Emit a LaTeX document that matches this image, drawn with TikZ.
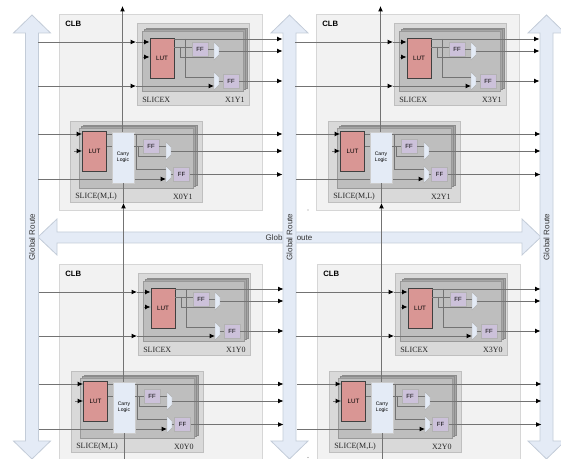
\documentclass[tikz,border=0pt]{standalone}
\usepackage{fontspec}
\setmainfont{Liberation Sans}
\newfontfamily\labfont{Liberation Serif}
\usetikzlibrary{arrows.meta}
\definecolor{clbfill}{HTML}{F2F2F2}
\definecolor{clbline}{HTML}{D6D6D6}
\definecolor{sliceout}{HTML}{D9D9D9}
\definecolor{slicemid}{HTML}{BEBEBE}
\definecolor{sliceback}{HTML}{A6A6A6}
\definecolor{lutfill}{HTML}{D99694}
\definecolor{fffill}{HTML}{CCC1DA}
\definecolor{routefill}{HTML}{E4EBF6}
\definecolor{routeline}{HTML}{C3CCD8}
\tikzset{
  wire/.style={draw=black!55, line width=0.6pt},
  wirearrow/.style={wire, -{Latex[black, length=4pt, width=3.6pt]}},
  lutbox/.style={draw=black!75, line width=0.7pt, fill=lutfill, inner sep=0pt, minimum width=18pt, minimum height=30pt, font=\fontsize{4.7}{5}\selectfont},
  ffbox/.style={draw=black!30, line width=0.6pt, fill=fffill, inner sep=0pt, minimum width=12pt, minimum height=10.5pt, font=\fontsize{4.5}{5}\selectfont},
  carrybox/.style={draw=black!20, line width=0.6pt, fill=routefill, inner sep=0pt, minimum width=16.5pt, minimum height=38.25pt, align=center, font=\fontsize{3.8}{4.6}\selectfont},
  muxpath/.style={draw=black!30, line width=0.3pt, fill=routefill},
  routepath/.style={draw=routeline, line width=0.6pt, fill=routefill},
  routelabel/.style={font=\fontsize{6}{7}\selectfont, text=black!80},
  serlabel/.style={font=\labfont\fontsize{6}{7}\selectfont, text=black!85, inner sep=0pt},
  clblabel/.style={font=\bfseries\fontsize{5.8}{7}\selectfont, inner sep=0pt, anchor=west},
  % the slice with LUT only, origin at top left of the grey box
  slicex/.pic={
    \draw[draw=black!25, fill=sliceout] (0,0) rectangle (112,82);
    \foreach \d in {4,2,0}{
      \draw[draw=black!45, line width=0.3pt, fill=sliceback] (5+\d,8-0.75*\d) rectangle (106+\d,68-0.75*\d);}
    \draw[draw=black!40, line width=0.3pt, fill=slicemid] (5,8) rectangle (106,68);
    \node[serlabel, anchor=west] (name) at (5,77) {SLICEX};
    \node[serlabel, anchor=east] (site) at (108,77) {\lab};
    \coordinate (ina) at (-99,19);
    \coordinate (tipa) at (-1,19);
    \coordinate (inb) at (6,34);
    \coordinate (inc) at (-99,63);
    \coordinate (tipc) at (-1,63);
    \coordinate (outa) at (145.5,16);
    \coordinate (outb) at (145.5,28);
    \coordinate (outc) at (145.5,58);
    \coordinate (muxa) at (77,34);
    \coordinate (muxb) at (82,28);
    \coordinate (muxc) at (77,54);
    \coordinate (muxd) at (77,63);
    \coordinate (muxe) at (82,58);
    \coordinate (bra) at (43,24);
    \coordinate (brb) at (48,16);
    \draw[wire] (bra) |- (muxa);
    \draw[wire] (brb) |- (muxc);
    \draw[wirearrow] (ina) -- (tipa);
    \draw[wirearrow] (inc) -- (tipc);
    \draw[wirearrow] (tipc) -- (muxd);
    \node[lutbox] (lut) at (25,35) {LUT};
    \node[ffbox] (ffa) at (63,26) {FF};
    \node[ffbox] (ffb) at (94,58) {FF};
    \draw[wirearrow] (tipa) -- (lut.west |- tipa);
    \draw[wirearrow] (inb) -- (lut.west |- inb);
    \draw[wirearrow] (lut.east |- outa) -- (outa);
    \draw[wire] (lut.east |- bra) -- (ffa.west |- bra);
    \draw[wire] (ffa.east |- 0,26) -- (77,26);
    \path[muxpath] (77,19) -- (82,24) -- (82,32) -- (77,37) -- cycle;
    \path[muxpath] (77,49) -- (82,54) -- (82,62) -- (77,67) -- cycle;
    \draw[wirearrow] (muxb) -- (outb);
    \draw[wire] (muxe) -- (ffb.west |- muxe);
    \draw[wirearrow] (ffb.east) -- (outc);
  },
  % the slice with LUT and carry logic
  slicem/.pic={
    \draw[draw=black!25, fill=sliceout] (0,0) rectangle (132,81);
    \foreach \d in {4,2,0}{
      \draw[draw=black!45, line width=0.3pt, fill=sliceback] (9+\d,7-0.75*\d) rectangle (123+\d,67-0.75*\d);}
    \draw[draw=black!40, line width=0.3pt, fill=slicemid] (9,7) rectangle (123,67);
    \node[serlabel, anchor=west] (name) at (5,76) {SLICE(M,L)};
    \node[serlabel, anchor=east] (site) at (123,76) {\lab};
    \coordinate (ina) at (-32,13);
    \coordinate (inb) at (4,30);
    \coordinate (inc) at (-32,58);
    \coordinate (outa) at (212.5,13);
    \coordinate (outb) at (212.5,30);
    \coordinate (outc) at (212.5,53.5);
    \coordinate (muxa) at (96,35);
    \coordinate (muxb) at (101,30);
    \coordinate (muxc) at (96,48);
    \coordinate (muxd) at (96,58);
    \coordinate (muxe) at (101,53.5);
    \coordinate (bra) at (68,25);
    \coordinate (brb) at (66,13);
    \coordinate (carryup) at (52.5,\cup);
    \coordinate (carrydown) at (53,\cdown);
    \draw[wire] (bra) |- (muxa);
    \draw[wire] (brb) |- (muxc);
    \draw[wirearrow] (inc) -- (muxd);
    \node[lutbox] (lut) at (24.5,30) {LUT};
    \node[carrybox] (carry) at (53,36.5) {Carry\\Logic};
    \node[ffbox] (ffa) at (81,25) {FF};
    \node[ffbox] (ffb) at (111.5,53.5) {FF};
    \draw[wirearrow] (ina) -- (lut.west |- ina);
    \draw[wirearrow] (inb) -- (lut.west |- inb);
    \draw[wire] (lut.east |- outa) -- (carry.west |- outa);
    \draw[wirearrow] (carry.east |- outa) -- (outa);
    \draw[wire] (lut.east |- bra) -- (carry.west |- bra);
    \draw[wire] (carry.east |- bra) -- (ffa.west |- bra);
    \draw[wire] (ffa.east) -- (96,25);
    \path[muxpath] (96,21) -- (101,26) -- (101,34) -- (96,39) -- cycle;
    \path[muxpath] (96,45) -- (101,50) -- (101,57) -- (96,62) -- cycle;
    \draw[wirearrow] (muxb) -- (outb);
    \draw[wire] (muxe) -- (ffb.west |- muxe);
    \draw[wirearrow] (ffb.east) -- (outc);
    \draw[wirearrow] (carry.north -| carryup) -- (carryup);
    \draw[wire] (carry.south -| carrydown) -- (carrydown);
  }
}
\begin{document}
\begin{tikzpicture}[x=0.75pt, y=-0.75pt]
  \useasboundingbox (0,0) rectangle (561,459);
  \clip (0,0) rectangle (561,459);
  % configurable logic blocks
  \foreach \cx/\cy/\i in {59/14/a, 316/14/b, 59/264/c, 317/264/d}{
    \draw[draw=clbline, fill=clbfill] (\cx,\cy) rectangle (\cx+203,\cy+196);
    \node[clblabel] (clb\i) at (\cx+6,\cy+10) {CLB};}
  % horizontal route, its label is partly hidden by the middle column
  \path[routepath] (38,237) -- (57,219) -- (57,232) -- (522,232) -- (522,219) -- (541,237)
    -- (522,255) -- (522,243) -- (57,243) -- (57,255) -- cycle;
  \node[routelabel] (hroute) at (289,237.5) {Global Route};
  % vertical routes
  \foreach \rx/\i in {32/a, 289.5/b, 546.5/c}{
    \path[routepath] (\rx,15) -- (\rx+18.5,33) -- (\rx+6.5,33) -- (\rx+6.5,441) -- (\rx+18.5,441)
      -- (\rx,459) -- (\rx-18.5,441) -- (\rx-6.5,441) -- (\rx-6.5,33) -- (\rx-18.5,33) -- cycle;
    \node[routelabel, rotate=90] (vroute\i) at (\rx,237) {Global Route};}
  % slices
  \foreach \sx/\sy/\lab in {137/23/X1Y1, 394/23/X3Y1, 138/273/X1Y0, 395/273/X3Y0}{
    \pic (s\lab) at (\sx,\sy) {slicex};}
  \foreach \sx/\sy/\lab/\cup/\cdown in {70/121/X0Y1/-115/82, 328/121/X2Y1/-115/82,
      71/371/X0Y0/-168/88, 329/371/X2Y0/-168/88}{
    \pic (s\lab) at (\sx,\sy) {slicem};}
  % stray specks
  \fill[black!45] (308,210) circle (0.4pt);
  \fill[black!45] (308,457.5) circle (0.4pt);
\end{tikzpicture}
\end{document}
